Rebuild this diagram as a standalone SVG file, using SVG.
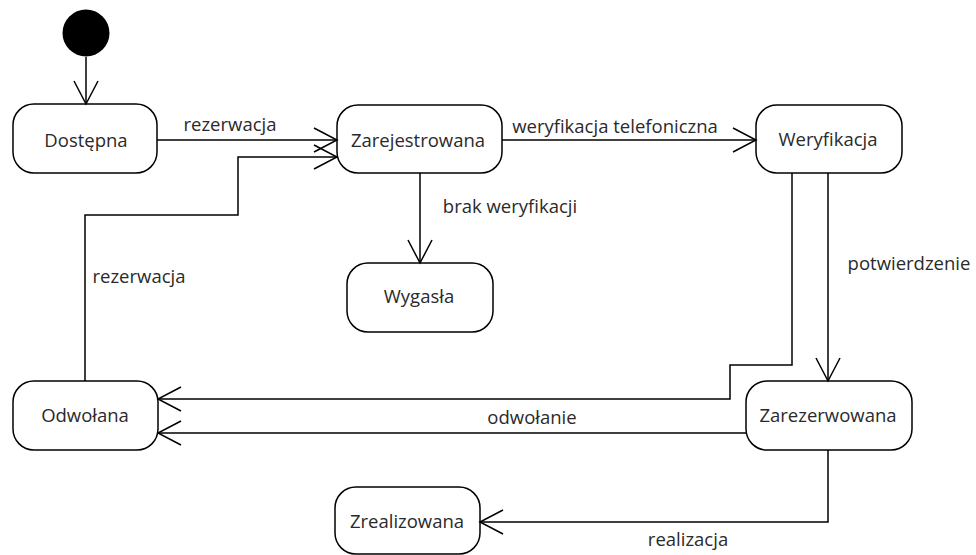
<svg xmlns="http://www.w3.org/2000/svg" width="976" height="555" viewBox="0 0 976 555">
  <style>
    .state rect { fill: #ffffff; stroke: #000000; stroke-width: 1.5; }
    text { font-family: "Open Sans", "Liberation Sans", sans-serif; font-size: 18.5px; fill: #2a2a2a; text-anchor: middle; }
    .edges path { fill: none; stroke: #000000; stroke-width: 1.5; }
    .edges .arrow { marker-end: url(#open-arrow); }
  </style>
  <defs>
    <marker id="open-arrow" markerUnits="userSpaceOnUse" markerWidth="30" markerHeight="30" viewBox="-26 -15 30 30" refX="0" refY="0" orient="auto" overflow="visible">
      <path d="M-23,-12 L0,0 L-23,12" fill="none" stroke="#000000" stroke-width="1.5"/>
    </marker>
  </defs>
  <rect x="0" y="0" width="976" height="555" fill="#ffffff"/>

  <!-- initial pseudo-state -->
  <g id="start">
    <circle cx="86" cy="33" r="23.5" fill="#000000"/>
  </g>

  <!-- states -->
  <g id="dostepna" class="state">
    <rect x="13" y="104" width="144" height="69" rx="21" ry="21"/>
    <text x="86" y="147">Dostępna</text>
  </g>
  <g id="zarejestrowana" class="state">
    <rect x="337" y="105" width="165" height="68" rx="21" ry="21"/>
    <text x="418" y="147">Zarejestrowana</text>
  </g>
  <g id="weryfikacja" class="state">
    <rect x="756" y="105" width="146" height="68" rx="21" ry="21"/>
    <text x="828" y="146">Weryfikacja</text>
  </g>
  <g id="wygasla" class="state">
    <rect x="347" y="263" width="146" height="69" rx="21" ry="21"/>
    <text x="419" y="303">Wygasła</text>
  </g>
  <g id="odwolana" class="state">
    <rect x="13" y="381" width="145" height="69" rx="21" ry="21"/>
    <text x="85" y="422">Odwołana</text>
  </g>
  <g id="zarezerwowana" class="state">
    <rect x="746" y="381" width="166" height="69" rx="21" ry="21"/>
    <text x="828" y="422">Zarezerwowana</text>
  </g>
  <g id="zrealizowana" class="state">
    <rect x="335" y="487" width="145" height="67" rx="21" ry="21"/>
    <text x="407" y="528">Zrealizowana</text>
  </g>

  <!-- transitions -->
  <g id="connectors" class="edges">
    <path class="arrow" d="M86,57 V104"/>
    <path class="arrow" d="M157,140 H337"/>
    <path class="arrow" d="M85,381 V215 H238 V157 H337"/>
    <path class="arrow" d="M502,140 H756"/>
    <path class="arrow" d="M420,173 V263"/>
    <path class="arrow" d="M792,173 V365 H730 V399 H158"/>
    <path class="arrow" d="M828,173 V381"/>
    <path class="arrow" d="M746,433 H158"/>
    <path class="arrow" d="M828,450 V522 H480"/>
  </g>

  <!-- transition labels -->
  <g id="labels">
    <text x="230" y="131">rezerwacja</text>
    <text x="615" y="133">weryfikacja telefoniczna</text>
    <text x="510" y="213">brak weryfikacji</text>
    <text x="909" y="270">potwierdzenie</text>
    <text x="139" y="283">rezerwacja</text>
    <text x="532" y="424">odwołanie</text>
    <text x="688" y="546">realizacja</text>
  </g>
</svg>
